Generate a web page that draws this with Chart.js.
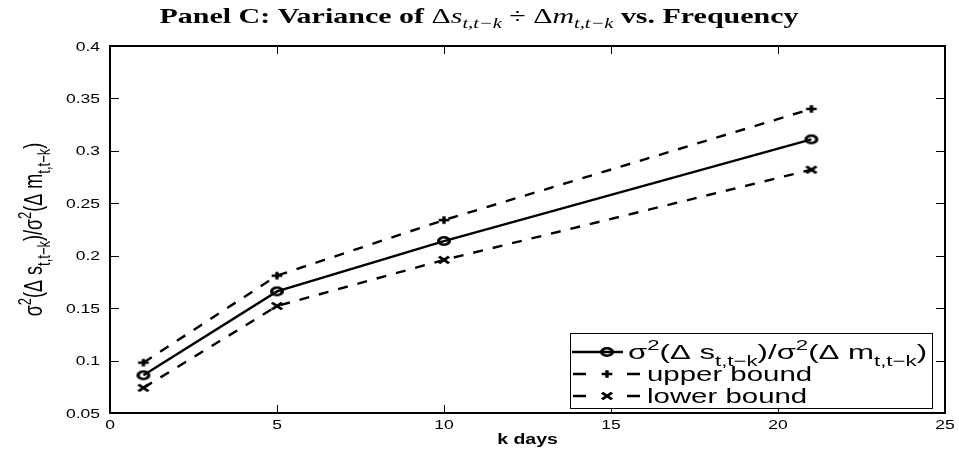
<!DOCTYPE html>
<html>
<head>
<meta charset="utf-8">
<script src="https://cdn.jsdelivr.net/npm/chart.js@4.4.1/dist/chart.umd.min.js"></script>
<style>
  html, body { margin: 0; padding: 0; background: #fff; }
  #wrap { width: 959px; height: 450px; position: relative; }
</style>
</head>
<body>
<div id="wrap"><canvas id="chart"></canvas></div>
<script>
// values
const kDays = [1, 5, 10, 21];
const ratioVar = [0.086, 0.166, 0.214, 0.311];
const upperBound = [0.098, 0.181, 0.234, 0.340];
const lowerBound = [0.074, 0.152, 0.196, 0.282];
const xTicks = [0, 5, 10, 15, 20, 25];
const yTicks = [0.05, 0.1, 0.15, 0.2, 0.25, 0.3, 0.35, 0.4];
const yTickLabels = ["0.05", "0.1", "0.15", "0.2", "0.25", "0.3", "0.35", "0.4"];

// the original figure is stretched sideways
const SX = 1.4;
const SANS = '"Liberation Sans", Arial, sans-serif';
const SERIF = '"Liberation Serif", "Times New Roman", serif';

function marker(kind) {
  const c = document.createElement("canvas");
  c.width = 20;
  c.height = 14;
  const g = c.getContext("2d");
  g.translate(10, 7);
  g.scale(SX, 1);
  g.strokeStyle = "#000";
  g.lineWidth = 2.4;
  g.beginPath();
  if (kind === "circle") {
    g.arc(0, 0, 3.8, 0, Math.PI * 2);
  } else if (kind === "plus") {
    g.moveTo(-3.8, 0); g.lineTo(3.8, 0);
    g.moveTo(0, -3.8); g.lineTo(0, 3.8);
  } else {
    g.moveTo(-3.6, -3.4); g.lineTo(3.6, 3.4);
    g.moveTo(3.6, -3.4); g.lineTo(-3.6, 3.4);
  }
  g.stroke();
  return c;
}
const mCircle = marker("circle");
const mPlus = marker("plus");
const mCross = marker("cross");

function pts(ys) {
  return kDays.map((k, i) => ({ x: k, y: ys[i] }));
}

function segWidth(ctx, segs) {
  let w = 0;
  for (const s of segs) {
    ctx.font = s.font;
    w += ctx.measureText(s.t).width;
  }
  return w;
}

// draws text runs in a local frame scaled by (sx, sy)
function drawRich(ctx, segs, x, y, sx, sy) {
  let cx = x;
  for (const s of segs) {
    ctx.save();
    ctx.font = s.font;
    ctx.translate(cx, y);
    ctx.scale(sx, sy);
    ctx.fillText(s.t, 0, s.dy || 0);
    const w = ctx.measureText(s.t).width;
    ctx.restore();
    cx += w * sx;
  }
}

function sigmaRatio(F, Fs) {
  const n = `${F}px ${SANS}`;
  const s = `${Fs}px ${SANS}`;
  return [
    { t: "\u03c3", font: n },
    { t: "2", font: s, dy: -0.42 * F },
    { t: "(\u0394 s", font: n },
    { t: "t,t\u2212k", font: s, dy: 0.32 * F },
    { t: ")/\u03c3", font: n },
    { t: "2", font: s, dy: -0.42 * F },
    { t: "(\u0394 m", font: n },
    { t: "t,t\u2212k", font: s, dy: 0.32 * F },
    { t: ")", font: n },
  ];
}

const decor = {
  id: "decor",
  afterDraw(chart) {
    const ctx = chart.ctx;
    const a = chart.chartArea;
    const xs = chart.scales.x;
    const ys = chart.scales.y;
    ctx.save();
    ctx.fillStyle = "#000";
    ctx.strokeStyle = "#000";
    ctx.textBaseline = "alphabetic";

    // inward ticks on all four sides
    ctx.lineWidth = 1;
    ctx.beginPath();
    for (const v of xTicks) {
      const px = Math.round(xs.getPixelForValue(v)) + 0.5;
      ctx.moveTo(px, a.bottom); ctx.lineTo(px, a.bottom - 8);
      ctx.moveTo(px, a.top); ctx.lineTo(px, a.top + 8);
    }
    for (const v of yTicks) {
      const py = Math.round(ys.getPixelForValue(v)) + 0.5;
      ctx.moveTo(a.left, py); ctx.lineTo(a.left + 9, py);
      ctx.moveTo(a.right, py); ctx.lineTo(a.right - 9, py);
    }
    ctx.stroke();

    // box
    ctx.lineWidth = 2;
    ctx.strokeRect(a.left, a.top, a.right - a.left, a.bottom - a.top);

    // tick labels
    const tf = `12.5px ${SANS}`;
    ctx.font = tf;
    xTicks.forEach((v) => {
      const t = String(v);
      ctx.font = tf;
      const w = ctx.measureText(t).width * SX;
      drawRich(ctx, [{ t, font: tf }], xs.getPixelForValue(v) - w / 2, a.bottom + 16, SX, 1);
    });
    yTicks.forEach((v, i) => {
      const t = yTickLabels[i];
      ctx.font = tf;
      const w = ctx.measureText(t).width * SX;
      drawRich(ctx, [{ t, font: tf }], a.left - 10 - w, ys.getPixelForValue(v) + 4.5, SX, 1);
    });

    // x label
    const xl = [{ t: "k days", font: `bold 15px ${SANS}` }];
    const xlw = segWidth(ctx, xl) * 1.3;
    drawRich(ctx, xl, (a.left + a.right) / 2 - xlw / 2, 444, 1.3, 1);

    // y label, rotated
    const yl = sigmaRatio(18, 13);
    const ylw = segWidth(ctx, yl);
    ctx.save();
    ctx.translate(42, (a.top + a.bottom) / 2);
    ctx.rotate(-Math.PI / 2);
    drawRich(ctx, yl, -ylw / 2, 0, 1, SX);
    ctx.restore();

    // title
    const F = 22, Fs = 15;
    const title = [
      { t: "Panel C: Variance of ", font: `bold ${F}px ${SERIF}` },
      { t: "\u0394", font: `${F}px ${SERIF}` },
      { t: "s", font: `italic ${F}px ${SERIF}` },
      { t: "t,t\u2212k", font: `italic ${Fs}px ${SERIF}`, dy: 5 },
      { t: " \u00f7 ", font: `${F}px ${SERIF}` },
      { t: "\u0394", font: `${F}px ${SERIF}` },
      { t: "m", font: `italic ${F}px ${SERIF}` },
      { t: "t,t\u2212k", font: `italic ${Fs}px ${SERIF}`, dy: 5 },
      { t: " vs. Frequency", font: `bold ${F}px ${SERIF}` },
    ];
    const tw = segWidth(ctx, title);
    drawRich(ctx, title, chart.width / 2 - 320, 23, 639 / tw, 1);

    // legend
    const L = { left: 570, top: 333, right: a.right - 13, bottom: a.bottom - 5 };
    ctx.fillStyle = "#fff";
    ctx.fillRect(L.left, L.top, L.right - L.left, L.bottom - L.top);
    ctx.fillStyle = "#000";
    ctx.lineWidth = 1;
    ctx.strokeRect(L.left + 0.5, L.top + 0.5, L.right - L.left, L.bottom - L.top);
    const rows = [352, 374, 396];
    const mx = 607;
    ctx.lineWidth = 2.4;
    ctx.beginPath();
    ctx.moveTo(572, rows[0]); ctx.lineTo(623, rows[0]);
    for (const r of [rows[1], rows[2]]) {
      ctx.moveTo(573, r); ctx.lineTo(586, r);
      ctx.moveTo(627, r); ctx.lineTo(640, r);
    }
    ctx.stroke();
    ctx.drawImage(mCircle, mx - 10, rows[0] - 7);
    ctx.drawImage(mPlus, mx - 10, rows[1] - 7);
    ctx.drawImage(mCross, mx - 10, rows[2] - 7);
    const LF = 21;
    const row1 = sigmaRatio(LF, 15);
    drawRich(ctx, row1, 628, rows[0] + 7, 299 / segWidth(ctx, row1), 1);
    drawRich(ctx, [{ t: "upper bound", font: `${LF}px ${SANS}` }], 647, rows[1] + 7, SX, 1);
    drawRich(ctx, [{ t: "lower bound", font: `${LF}px ${SANS}` }], 647, rows[2] + 7, SX, 1);

    ctx.restore();
  },
};

new Chart(document.getElementById("chart"), {
  type: "line",
  data: {
    datasets: [
      {
        label: "ratio",
        data: pts(ratioVar),
        borderColor: "#000",
        borderWidth: 2.4,
        pointStyle: mCircle,
        tension: 0,
        fill: false,
      },
      {
        label: "upper bound",
        data: pts(upperBound),
        borderColor: "#000",
        borderWidth: 2.4,
        borderDash: [10, 10],
        pointStyle: mPlus,
        tension: 0,
        fill: false,
      },
      {
        label: "lower bound",
        data: pts(lowerBound),
        borderColor: "#000",
        borderWidth: 2.4,
        borderDash: [10, 10],
        pointStyle: mCross,
        tension: 0,
        fill: false,
      },
    ],
  },
  options: {
    responsive: true,
    maintainAspectRatio: false,
    animation: false,
    layout: { padding: { left: 0, right: 14, top: 46, bottom: 0 } },
    plugins: { legend: { display: false }, title: { display: false }, tooltip: { enabled: false } },
    scales: {
      x: {
        type: "linear",
        min: 0,
        max: 25,
        ticks: { display: false },
        grid: { display: false },
        border: { display: false },
        afterFit(s) { s.height = 37; },
      },
      y: {
        min: 0.05,
        max: 0.4,
        ticks: { display: false },
        grid: { display: false },
        border: { display: false },
        afterFit(s) { s.width = 110; },
      },
    },
  },
  plugins: [decor],
});
</script>
</body>
</html>
